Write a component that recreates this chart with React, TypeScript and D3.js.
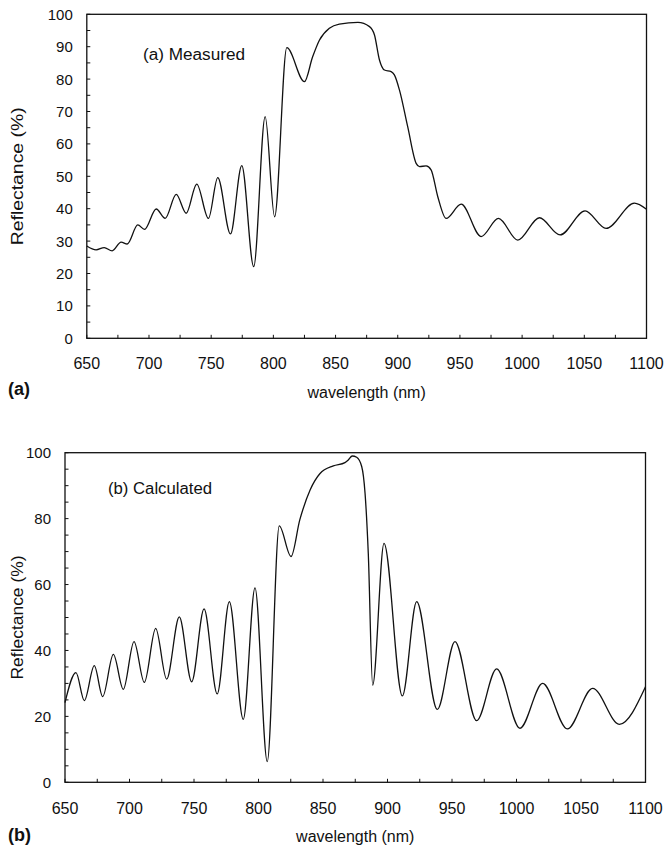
import React from "react";
import * as d3 from "d3";

// Panel (a): measured reflectance
const measuredWl = [650, 657.5, 664, 670.4, 677.6, 682.5, 691, 696.4, 705.8, 713, 721.9, 729.9, 738.4, 747.8, 755.3, 765.5, 774.6, 784.2, 793.4, 801, 810.8, 825, 831.5, 837, 845, 853, 868, 877.3, 881.3, 885.3, 889.3, 894.7, 897.3, 901.4, 908, 914.8, 917.5, 922.8, 926.8, 932.2, 938.9, 951, 967, 981, 996.5, 1013.9, 1030.5, 1050.6, 1067.5, 1090.3, 1100];
const measuredR = [28.5, 27.3, 28, 27, 29.7, 29.1, 35, 33.6, 39.9, 37, 44.4, 38.6, 47.6, 37, 49.6, 32.2, 53.3, 22.1, 68.4, 37.5, 89.7, 79.2, 86.8, 92, 95.7, 97, 97.5, 96.2, 93.6, 85.9, 82.8, 82.3, 81.3, 76.6, 65.3, 54, 53, 53.2, 52, 43.7, 37, 41.4, 31.4, 37, 30.3, 37.2, 31.9, 39.3, 33.9, 41.7, 39.8];

// Panel (b): calculated reflectance
const calcWl = [650, 658.5, 665, 672.7, 679.2, 687.5, 695.2, 703.5, 711.5, 720.3, 728.8, 738.6, 748.2, 757.8, 768, 777.4, 788.2, 797.3, 806.8, 816.1, 825.2, 832, 840, 847.7, 858, 867, 869.6, 872.7, 876.1, 880, 882.6, 885.1, 888.5, 897.3, 911.5, 922.6, 938.6, 952.3, 969.1, 984.6, 1002.7, 1020.3, 1039.4, 1059, 1079.7, 1100];
const calcR = [24.2, 33.3, 24.8, 35.4, 26, 38.8, 28.2, 42.7, 30.3, 46.7, 31.3, 50.2, 30.5, 52.6, 26.8, 54.8, 19.1, 59, 6.3, 77.8, 68.5, 79.6, 88.7, 93.7, 96, 97, 97.8, 99, 98.6, 95.8, 87.7, 69.5, 29.5, 72.5, 26.2, 54.8, 22.1, 42.7, 18.7, 34.4, 16.4, 30, 16.2, 28.5, 17.6, 29];

const xTickLabels = [650, 700, 750, 800, 850, 900, 950, 1000, 1050, 1100];
const topYLabels = [0, 10, 20, 30, 40, 50, 60, 70, 80, 90, 100];
const bottomYLabels = [0, 20, 40, 60, 80, 100];

const FONT = "'Liberation Sans', Arial, Helvetica, sans-serif";

type PanelProps = {
  wl: number[];
  r: number[];
  x0: number; x1: number; y0: number; y1: number;
  yLabels: number[];
  note: string; noteX: number; noteY: number; noteLen: number;
  tag: string; tagY: number;
  tickLabelY: number; titleY: number;
  yTitleX: number; yTitleLen: number;
};

function Panel(p: PanelProps) {
  const x = d3.scaleLinear().domain([650, 1100]).range([p.x0, p.x1]);
  const y = d3.scaleLinear().domain([0, 100]).range([p.y0, p.y1]);
  const pts = p.wl.map((w, i) => [w, p.r[i]] as [number, number]);
  const line = d3.line<[number, number]>()
    .x(d => x(d[0]))
    .y(d => y(d[1]))
    .curve(d3.curveMonotoneX);
  const xTicks = d3.range(650, 1100.1, 25);
  const yTicks = d3.range(0, 100.1, 5);
  const tl = 3.5;
  const yMid = (p.y0 + p.y1) / 2;
  return (
    <g>
      <rect x={p.x0} y={p.y1} width={p.x1 - p.x0} height={p.y0 - p.y1} fill="none" stroke="#111" strokeWidth={1.3} />
      {xTicks.map(t => (
        <line key={"xt" + t} x1={x(t)} x2={x(t)} y1={p.y0} y2={p.y0 - tl} stroke="#111" strokeWidth={1} />
      ))}
      {yTicks.map(t => (
        <line key={"yt" + t} x1={p.x0} x2={p.x0 + tl} y1={y(t)} y2={y(t)} stroke="#111" strokeWidth={1} />
      ))}
      {xTickLabels.map(t => (
        <text key={"xl" + t} x={x(t)} y={p.tickLabelY} textAnchor="middle" dominantBaseline="central" fontFamily={FONT} fontSize={16} fill="#111">{t}</text>
      ))}
      {p.yLabels.map(t => (
        <text key={"yl" + t} x={p.x0 - 14} y={y(t)} textAnchor="end" dominantBaseline="central" fontFamily={FONT} fontSize={15} fill="#111">{t}</text>
      ))}
      <path d={line(pts) || ""} fill="none" stroke="#111" strokeWidth={1.3} />
      <text x={p.noteX} y={p.noteY} dominantBaseline="central" fontFamily={FONT} fontSize={16} textLength={p.noteLen} lengthAdjust="spacingAndGlyphs" fill="#111">{p.note}</text>
      <text x={(p.x0 + p.x1) / 2} y={p.titleY} textAnchor="middle" dominantBaseline="central" fontFamily={FONT} fontSize={16} fill="#111">wavelength (nm)</text>
      <text x={8} y={p.tagY} dominantBaseline="central" fontFamily={FONT} fontSize={18} fontWeight="bold" fill="#111">{p.tag}</text>
      <text transform={`translate(${p.yTitleX},${yMid}) rotate(-90)`} textAnchor="middle" dominantBaseline="central" fontFamily={FONT} fontSize={16} textLength={p.yTitleLen} lengthAdjust="spacingAndGlyphs" fill="#111">Reflectance (%)</text>
    </g>
  );
}

export default function App() {
  return (
    <svg width={666} height={846} style={{ position: "absolute", left: 0, top: 0, background: "#fff" }}>
      <rect x={0} y={0} width={666} height={846} fill="#fff" />
      <Panel wl={measuredWl} r={measuredR} x0={86.8} x1={646.5} y0={338.3} y1={14.3}
        yLabels={topYLabels} note="(a) Measured" noteX={143} noteY={54} noteLen={102}
        tag="(a)" tagY={389} tickLabelY={363} titleY={392} yTitleX={17.5} yTitleLen={138} />
      <Panel wl={calcWl} r={calcR} x0={65} x1={645.5} y0={782.3} y1={452.7}
        yLabels={bottomYLabels} note="(b) Calculated" noteX={108} noteY={488} noteLen={104}
        tag="(b)" tagY={835} tickLabelY={808} titleY={836} yTitleX={17} yTitleLen={124} />
    </svg>
  );
}
